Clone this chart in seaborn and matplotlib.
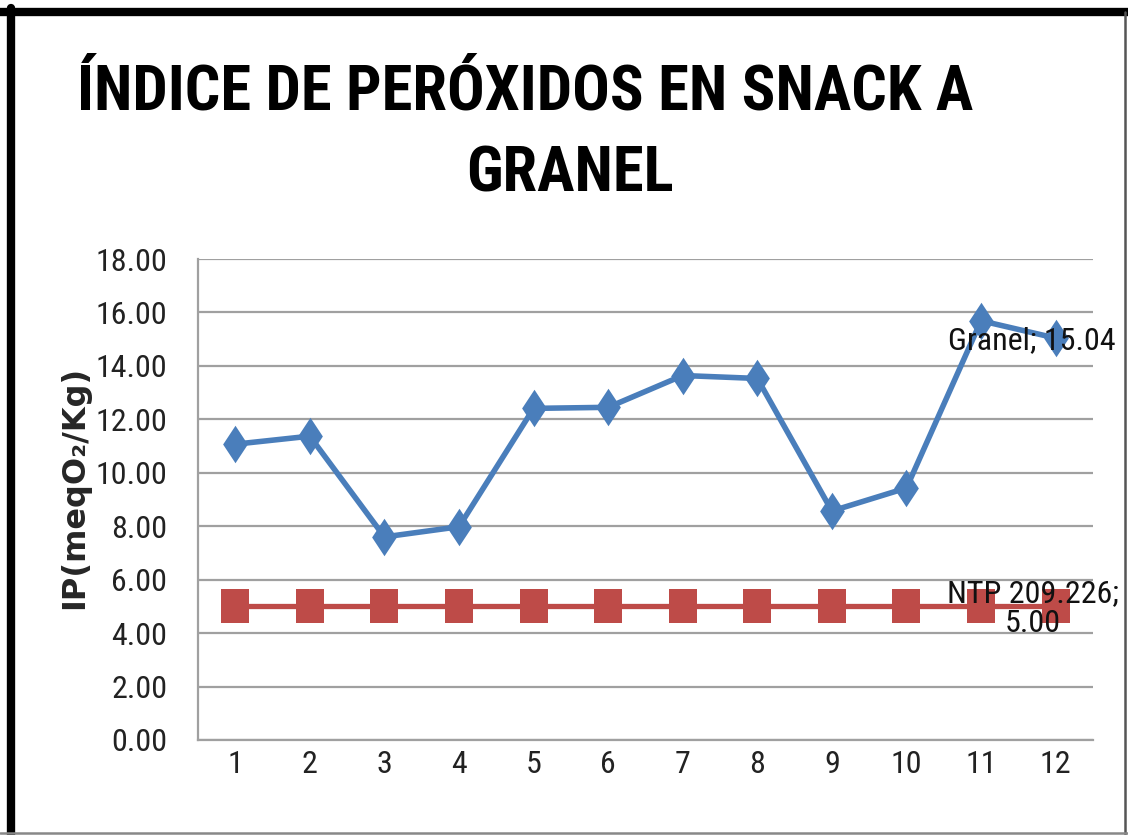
import numpy as np
import pandas as pd
import matplotlib
matplotlib.use("Agg")
import matplotlib.pyplot as plt
import seaborn as sns
from matplotlib.lines import Line2D

# Datos
muestras = list(range(1, 13))
granel = [11.07, 11.37, 7.60, 7.98, 12.41, 12.45, 13.64, 13.53, 8.57, 9.43, 15.69, 15.04]
ntp = [5.00] * 12
y_ticks = np.arange(0, 18.01, 2)

df = pd.DataFrame({"pos": range(12), "Granel": granel, "NTP 209.226": ntp})

sns.set_theme(style="white")
fuente = ["Roboto Condensed", "DejaVu Sans"]
plt.rcParams["font.family"] = fuente

fig = plt.figure(figsize=(11.28, 8.35), dpi=100)
ax = fig.add_axes([0.1755, 0.1138, 0.7934, 0.576])

rombo = [(0, -0.5), (0.33, 0), (0, 0.5), (-0.33, 0), (0, -0.5)]
cuadro = [(-0.4, -0.5), (0.4, -0.5), (0.4, 0.5), (-0.4, 0.5), (-0.4, -0.5)]
sns.lineplot(data=df, x="pos", y="Granel", ax=ax, color="#4A7EBB", lw=4,
             marker=rombo, markersize=27, markeredgewidth=0, zorder=3)
sns.lineplot(data=df, x="pos", y="NTP 209.226", ax=ax, color="#BE4B48", lw=3.8,
             marker=cuadro, markersize=25, markeredgewidth=0, zorder=3)

ax.set_xlim(-0.5, 11.5)
ax.set_ylim(0, 18)
ax.set_yticks(y_ticks)
ax.set_yticklabels([f"{v:.2f}" for v in y_ticks], fontsize=23, color="#222222")
ax.set_xticks(range(12))
ax.set_xticklabels([str(m) for m in muestras], fontsize=23, color="#222222")
ax.tick_params(axis="x", pad=7, length=0)
ax.tick_params(axis="y", pad=22, length=0)
ax.yaxis.grid(True, color="#a0a0a0", lw=1.6)
ax.set_axisbelow(True)
for s in ["top", "right"]:
    ax.spines[s].set_visible(False)
for s in ["left", "bottom"]:
    ax.spines[s].set_color("#a0a0a0")
    ax.spines[s].set_linewidth(1.6)

ax.set_xlabel("")
ax.set_ylabel("IP(meqO₂/Kg)", fontsize=23, fontweight="bold",
              family=["DejaVu Sans"])
ax.yaxis.set_label_coords(-0.121, 0.526)

# Etiquetas de datos
ax.annotate(f"Granel; {granel[-1]:.2f}", xy=(11, granel[-1]), xytext=(-24, -3),
            textcoords="offset pixels", ha="center", va="center", fontsize=23,
            color="#111111", zorder=4)
ax.annotate(f"NTP 209.226;\n{ntp[-1]:.2f}", xy=(11, ntp[-1]), xytext=(-23, -2),
            textcoords="offset pixels", ha="center", va="center", fontsize=23,
            color="#111111", linespacing=1.05, multialignment="center", zorder=4)

fig.text(525 / 1128, 1 - 110 / 835, "ÍNDICE DE PERÓXIDOS EN SNACK A", ha="center",
         va="baseline", fontsize=45, fontweight="bold", color="black")
fig.text(570 / 1128, 1 - 192 / 835, "GRANEL", ha="center",
         va="baseline", fontsize=45, fontweight="bold", color="black")

# Marco exterior
fig.add_artist(Line2D([0, 1], [1 - 12 / 835] * 2, color="black", lw=6))
fig.add_artist(Line2D([11 / 1128] * 2, [0, 1 - 8 / 835], color="black", lw=6))
fig.add_artist(Line2D([1125 / 1128] * 2, [0, 1 - 12 / 835], color="#555555", lw=1.8))
fig.add_artist(Line2D([0, 1], [1.6 / 835] * 2, color="#888888", lw=1.8))

fig.savefig("out.png", dpi=100)
